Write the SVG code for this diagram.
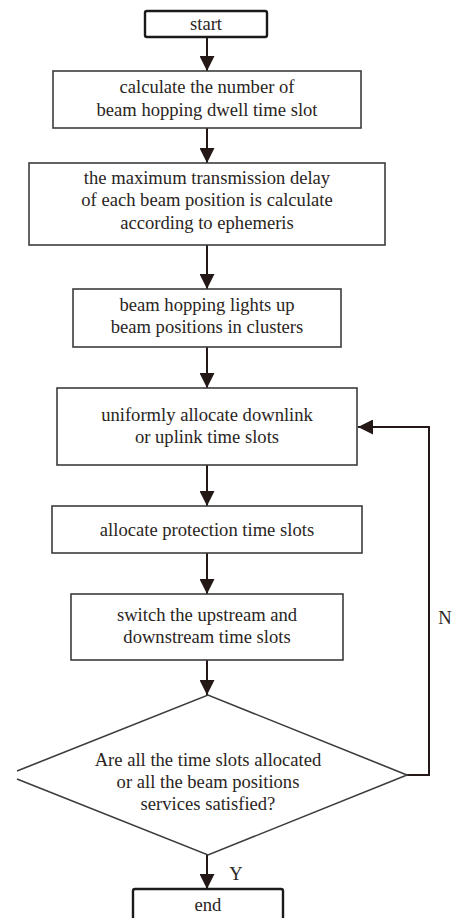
<svg xmlns="http://www.w3.org/2000/svg" width="457" height="918" viewBox="0 0 457 918">
<style>
.box{fill:#fff;stroke:#3c3c3c;stroke-width:1.6}
.term{fill:#fff;stroke:#1a1a1a;stroke-width:2.4}
.t{font-family:"Liberation Serif","Times New Roman",serif;font-size:18.6px;fill:#2a2523;text-anchor:middle}
.ln{fill:none;stroke:#231815;stroke-width:2}
</style>
<defs>
<marker id="ah" markerWidth="15" markerHeight="15" refX="15" refY="7.5" orient="auto" markerUnits="userSpaceOnUse">
<path d="M0,0 L15,7.5 L0,15 Z" fill="#231815"/>
</marker>
</defs>
<rect width="457" height="918" fill="#fff"/>
<g id="connectors">
<line class="ln" x1="207" y1="37" x2="207" y2="71" marker-end="url(#ah)"/>
<line class="ln" x1="207" y1="128" x2="207" y2="163" marker-end="url(#ah)"/>
<line class="ln" x1="207" y1="245" x2="207" y2="289" marker-end="url(#ah)"/>
<line class="ln" x1="207" y1="347" x2="207" y2="388" marker-end="url(#ah)"/>
<line class="ln" x1="207" y1="465" x2="207" y2="506" marker-end="url(#ah)"/>
<line class="ln" x1="207" y1="553" x2="207" y2="594" marker-end="url(#ah)"/>
<line class="ln" x1="207" y1="660" x2="207" y2="695" marker-end="url(#ah)"/>
<line class="ln" x1="207" y1="855" x2="207" y2="889" marker-end="url(#ah)"/>
<polyline class="ln" points="407,775 429,775 429,427 358,427" marker-end="url(#ah)"/>
<text class="t" x="236" y="880">Y</text>
<text class="t" x="445" y="624">N</text>
</g>
<g id="start">
<rect class="term" x="145" y="11" width="122" height="26" rx="2"/>
<text class="t" x="206" y="30">start</text>
</g>
<g id="box1">
<rect class="box" x="53" y="71" width="308" height="57"/>
<text class="t" x="207" y="93">calculate the number of</text>
<text class="t" x="207" y="116">beam hopping dwell time slot</text>
</g>
<g id="box2">
<rect class="box" x="29" y="163" width="356" height="82"/>
<text class="t" x="207" y="184">the maximum transmission delay</text>
<text class="t" x="207" y="206">of each beam position is calculate</text>
<text class="t" x="207" y="229">according to ephemeris</text>
</g>
<g id="box3">
<rect class="box" x="73" y="289" width="268" height="58"/>
<text class="t" x="207" y="311">beam hopping lights up</text>
<text class="t" x="207" y="333">beam positions in clusters</text>
</g>
<g id="box4">
<rect class="box" x="57" y="388" width="300" height="77"/>
<text class="t" x="207" y="421">uniformly allocate downlink</text>
<text class="t" x="207" y="443">or uplink time slots</text>
</g>
<g id="box5">
<rect class="box" x="52" y="506" width="310" height="47"/>
<text class="t" x="207" y="536">allocate protection time slots</text>
</g>
<g id="box6">
<rect class="box" x="71" y="594" width="272" height="66"/>
<text class="t" x="207" y="621">switch the upstream and</text>
<text class="t" x="207" y="643">downstream time slots</text>
</g>
<g id="decision">
<polyline class="box" points="17,771 208,695 407,775 208,855 17,779" fill="#fff"/>
<text class="t" x="208" y="766">Are all the time slots allocated</text>
<text class="t" x="208" y="788">or all the beam positions</text>
<text class="t" x="208" y="810">services satisfied?</text>
</g>
<g id="end">
<rect class="term" x="133" y="889" width="150" height="34" rx="2"/>
<text class="t" x="208" y="911">end</text>
</g>
</svg>
